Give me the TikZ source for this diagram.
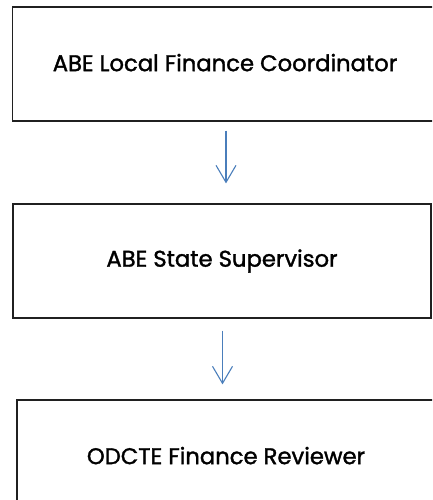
\documentclass[tikz,border=0pt]{standalone}
\usepackage{fontspec}
\newfontfamily\boxfont{Poppins}[FakeBold=1.5]
\usetikzlibrary{arrows.meta}
\definecolor{arrowblue}{HTML}{4A7EBB}
\definecolor{boxline}{HTML}{202020}
\newcommand{\boxtxt}[1]{\raisebox{3pt}{#1}}
\begin{document}
\begin{tikzpicture}[x=1pt,y=-1pt,
  box/.style={draw=boxline, line width=1.2pt, minimum width=#1, minimum height=114pt, inner sep=0pt, font=\boxfont\fontsize{22.7}{26}\selectfont},
  arr/.style={draw=arrowblue, line width=1.1pt, -{Straight Barb[length=17pt,width=20pt]}}]
\useasboundingbox (0,0) rectangle (432,500);
\clip (0,0) rectangle (432,500);
\node[box=425pt] (b1) at (225,64) {\boxtxt{ABE Local Finance Coordinator}};
\node[box=418pt] (b2) at (222,261) {\boxtxt{ABE State Supervisor}};
\node[box=418pt] (b3) at (226,457) {\boxtxt{ODCTE Finance Reviewer}};
\draw[arr, shorten <=9pt, shorten >=20pt] ([xshift=1pt]b1.south) -- ([xshift=1pt]b1.south |- b2.north);
\draw[arr, shorten <=12pt, shorten >=15pt] ([xshift=0.5pt]b2.south) -- ([xshift=0.5pt]b2.south |- b3.north);
\end{tikzpicture}
\end{document}
